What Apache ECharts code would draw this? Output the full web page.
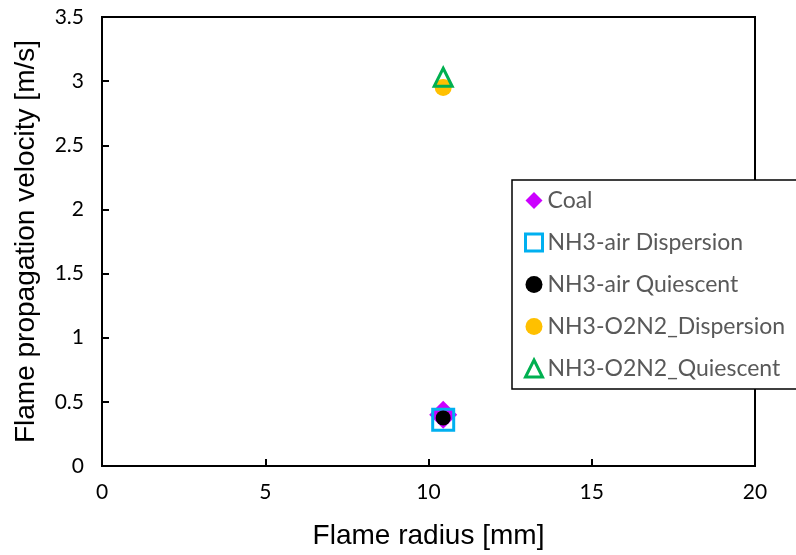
<!DOCTYPE html>
<html>
<head>
<meta charset="utf-8">
<script src="https://cdn.jsdelivr.net/npm/echarts@6/dist/echarts.min.js"></script>
<style>
  html, body { margin: 0; padding: 0; background: #fff; }
  #main { width: 796px; height: 555px; }
</style>
</head>
<body>
<div id="main"></div>
<script>
// 数据
var seriesNames = ["Coal", "NH3-air Dispersion", "NH3-air Quiescent", "NH3-O2N2_Dispersion", "NH3-O2N2_Quiescent"];
var coal = [[10.45, 0.40]];
var nh3AirDispersion = [[10.45, 0.36]];
var nh3AirQuiescent = [[10.45, 0.375]];
var nh3O2N2Dispersion = [[10.45, 2.95]];
var nh3O2N2Quiescent = [[10.45, 3.03]];
var xTicks = [0, 5, 10, 15, 20];
var yTicks = [0, 0.5, 1, 1.5, 2, 2.5, 3, 3.5];

var myChart = echarts.init(document.getElementById("main"));
var labelFont = "Lato, 'Open Sans', sans-serif";
var titleFont = "'Liberation Sans', Arial, sans-serif";

myChart.setOption({
  animation: false,
  grid: {
    left: 102,
    top: 17,
    width: 653,
    height: 451,
    show: true,
    borderColor: "#000",
    borderWidth: 2,
  },
  legend: {
    orient: "vertical",
    left: 512,
    top: 180,
    data: [
      { name: seriesNames[0], icon: "diamond", itemStyle: { color: "#CC00FF" } },
      { name: seriesNames[1], icon: "rect", itemStyle: { color: "rgba(0,0,0,0)", borderColor: "#00B0F0", borderWidth: 3 } },
      { name: seriesNames[2], icon: "circle", itemStyle: { color: "#000" } },
      { name: seriesNames[3], icon: "circle", itemStyle: { color: "#FFC000" } },
      { name: seriesNames[4], icon: "triangle", itemStyle: { color: "rgba(0,0,0,0)", borderColor: "#00B050", borderWidth: 3 } },
    ],
    backgroundColor: "#fff",
    borderColor: "#000",
    borderWidth: 1.5,
    padding: [9, 80, 9, 12],
    itemGap: 19,
    itemWidth: 17,
    itemHeight: 17,
    textStyle: {
      fontFamily: labelFont,
      fontSize: 23,
      color: "#595959",
    },
  },
  xAxis: {
    type: "value",
    min: xTicks[0],
    max: xTicks[xTicks.length - 1],
    interval: 5,
    name: "Flame radius [mm]",
    nameLocation: "middle",
    nameGap: 56,
    nameTextStyle: { fontFamily: titleFont, fontSize: 28, color: "#000" },
    splitLine: { show: false },
    axisLine: { lineStyle: { color: "#000", width: 2 } },
    axisTick: { inside: true, length: 7, lineStyle: { color: "#000", width: 2 } },
    axisLabel: { margin: 16, fontFamily: labelFont, fontSize: 21, color: "#000" },
  },
  yAxis: {
    type: "value",
    min: yTicks[0],
    max: yTicks[yTicks.length - 1],
    interval: 0.5,
    name: "Flame propagation velocity [m/s]",
    nameLocation: "middle",
    nameGap: 62,
    nameTextStyle: { fontFamily: titleFont, fontSize: 28, color: "#000" },
    splitLine: { show: false },
    axisLine: { lineStyle: { color: "#000", width: 2 } },
    axisTick: { inside: true, length: 7, lineStyle: { color: "#000", width: 2 } },
    axisLabel: { margin: 18, fontFamily: labelFont, fontSize: 21, color: "#000" },
  },
  series: [
    {
      name: seriesNames[0],
      type: "scatter",
      data: coal,
      symbol: "diamond",
      symbolSize: [28, 28],
      itemStyle: { color: "#CC00FF", opacity: 1 },
      z: 2,
    },
    {
      name: seriesNames[1],
      type: "scatter",
      data: nh3AirDispersion,
      symbol: "rect",
      symbolSize: 21,
      itemStyle: { color: "rgba(0,0,0,0)", borderColor: "#00B0F0", borderWidth: 3, opacity: 1 },
      z: 3,
    },
    {
      name: seriesNames[2],
      type: "scatter",
      data: nh3AirQuiescent,
      symbol: "circle",
      symbolSize: 15,
      itemStyle: { color: "#000", opacity: 1 },
      z: 4,
    },
    {
      name: seriesNames[3],
      type: "scatter",
      data: nh3O2N2Dispersion,
      symbol: "circle",
      symbolSize: 17,
      itemStyle: { color: "#FFC000", opacity: 1 },
      z: 5,
    },
    {
      name: seriesNames[4],
      type: "scatter",
      data: nh3O2N2Quiescent,
      symbol: "triangle",
      symbolSize: 18,
      itemStyle: { color: "rgba(0,0,0,0)", borderColor: "#00B050", borderWidth: 3, opacity: 1 },
      z: 6,
    },
  ],
});
</script>
</body>
</html>
